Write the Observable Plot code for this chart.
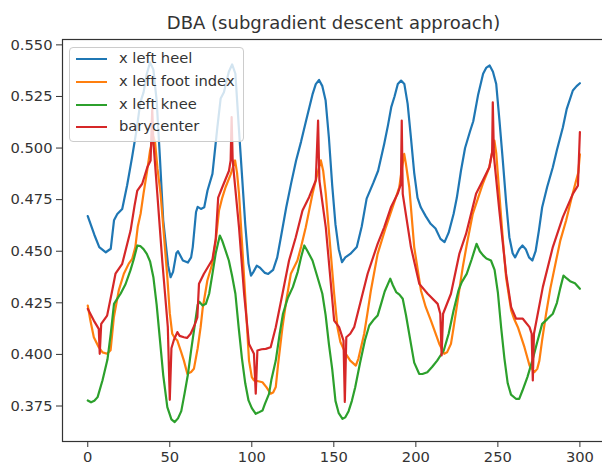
<!DOCTYPE html>
<html>
<head>
<meta charset="utf-8">
<script src="https://cdn.jsdelivr.net/npm/d3@7"></script>
<script src="https://cdn.jsdelivr.net/npm/@observablehq/plot@0.6"></script>
<style>
  body { margin: 0; background: #fff; }
  #wrap { position: relative; width: 602px; height: 466px; overflow: hidden; font-family: "DejaVu Sans", sans-serif; }
  #legend { position: absolute; left: 69px; top: 47px; width: 175px; height: 95px; box-sizing: border-box;
            border: 1px solid #cccccc; border-radius: 4px; background: rgba(255,255,255,0.8); }
  .sw { position: absolute; left: 6px; width: 31px; height: 2px; }
  .lb { position: absolute; left: 49px; font-size: 14.7px; color: #333; line-height: 18px; white-space: nowrap; }
</style>
</head>
<body>
<div id="wrap"></div>
<script>
const title = "DBA (subgradient descent approach)";
const seriesNames = ["x left heel", "x left foot index", "x left knee", "barycenter"];
const seriesColors = ["#1f77b4", "#ff7f0e", "#2ca02c", "#d62728"];
const xTicks = [0, 50, 100, 150, 200, 250, 300];
const yTicks = [0.375, 0.400, 0.425, 0.450, 0.475, 0.500, 0.525, 0.550];

const heelT = [0,4,7,11,14,16,18,21,24,27,30,32,34,36,38,40,42,44,46,49,50.5,52,54,55,58,61,63,64,66,67,69,71,73,76,79,81,83,86,88,90,92,94,96,98,99.5,101,103,105,108,110,113,115.5,118,121,124,127,130,133,137,139,141,143,145,147,149,151,153,155,157,160,164,167,170,174,177,180.7,183,185,187,189,191,193,195,197,199,201,203,206,209,212,215,217.5,220,223,225,227.5,230,233,235,238,241,243,245,247,249,251,253,255,257,259,260.5,263,265,267,269,271,273,275,277,280,283.5,286,289.6,292,295.7,298,300];
const heelV = [0.467,0.458,0.452,0.4495,0.4512,0.465,0.468,0.4705,0.482,0.4955,0.51,0.522,0.527,0.536,0.5415,0.538,0.523,0.495,0.465,0.443,0.4374,0.440,0.449,0.450,0.4455,0.4445,0.447,0.452,0.469,0.4715,0.4705,0.4713,0.4794,0.4875,0.510,0.524,0.527,0.537,0.5405,0.536,0.511,0.487,0.463,0.444,0.4382,0.440,0.443,0.442,0.4395,0.439,0.441,0.447,0.458,0.4713,0.483,0.494,0.503,0.513,0.526,0.531,0.533,0.530,0.523,0.505,0.482,0.463,0.451,0.4447,0.447,0.4487,0.452,0.462,0.4755,0.483,0.489,0.502,0.511,0.5198,0.525,0.531,0.5327,0.531,0.5214,0.505,0.488,0.476,0.4713,0.467,0.4633,0.461,0.456,0.4544,0.459,0.468,0.476,0.489,0.5,0.508,0.513,0.526,0.536,0.539,0.540,0.537,0.531,0.513,0.494,0.474,0.4568,0.449,0.447,0.451,0.4528,0.451,0.447,0.4455,0.450,0.46,0.4713,0.481,0.4907,0.499,0.510,0.519,0.5279,0.530,0.5314];

const footT = [0,1.6,3.7,6.7,9,11.8,13.9,15.9,18.9,22,25,27.1,29,30.5,32.2,34,36,38,40,41,42.5,44.4,46,48.5,50,51.5,53,54.6,57,58.6,60.7,63,64.7,67,68.8,70,72.9,75.9,78,80,82,84,87,89.8,91,92.2,95.3,98.3,100,101.3,104,106.5,109,111.5,113,114.6,116,118.7,121,123.8,127.8,130,132.9,137,140,142.1,143.5,145.1,147.5,150.2,152.2,154,157.3,160,163.4,165,168.5,170.5,172.6,176.7,181.7,185.8,189.9,191.5,192.9,194,196,199,203.1,206,209.2,214.3,217.3,219,221.4,223,225.5,228.6,231,234.7,238,240.8,244.8,246.5,247.9,249,250.9,253,255,258.1,260,262.2,266.2,269.3,272.3,274,275.3,277,279.4,282,285.5,288,291.6,295,297.7,299,300];
const footV = [0.4237,0.4164,0.4083,0.4035,0.401,0.4003,0.402,0.418,0.431,0.4391,0.444,0.4463,0.452,0.462,0.4681,0.478,0.488,0.4988,0.5055,0.503,0.49,0.4778,0.462,0.4374,0.42,0.410,0.408,0.4067,0.401,0.397,0.3906,0.3915,0.393,0.403,0.4132,0.422,0.4358,0.4439,0.455,0.4697,0.476,0.481,0.487,0.494,0.488,0.4778,0.4374,0.397,0.389,0.3874,0.387,0.3865,0.384,0.381,0.3815,0.3842,0.395,0.4132,0.426,0.4391,0.4455,0.452,0.4616,0.4778,0.4875,0.494,0.489,0.4778,0.455,0.4294,0.4132,0.406,0.4003,0.397,0.3946,0.398,0.410,0.42,0.431,0.4487,0.4616,0.4713,0.481,0.49,0.4972,0.492,0.481,0.452,0.431,0.423,0.4164,0.4051,0.4003,0.401,0.4051,0.413,0.4261,0.4423,0.453,0.4681,0.476,0.4826,0.4907,0.498,0.5036,0.4975,0.4778,0.456,0.4374,0.4213,0.417,0.4132,0.4035,0.3946,0.3914,0.393,0.397,0.407,0.4197,0.432,0.4455,0.455,0.4649,0.476,0.4843,0.488,0.497];

const kneeT = [0,2,4,6,9,12,14,16,18,20,23,26,28,30.2,32,34,36,38,40,42,44,46,48.5,51,53,55,57,59,61,63,65,67,68,70,72,74,76,78,80.5,82,84,86,88,90,92,94,96,98,100,102.4,104,106.5,108,110.5,112,114.6,117,119,122,125,128,130,132,134,137,140,143,145,147,149,151,153,155.3,157,159,161,163,166,169,171.6,174,176.7,179,181,184.4,186,188,190,192,194,197,199,202,204,207,210,213,217,220,223,226,228,231,234,237,239,241,243,245.8,248,250,252,254,256,258,261,263,265,268,271,274,277,280,283.5,286,288,290,292,294,297,300];
const kneeV = [0.3777,0.3768,0.3775,0.3793,0.3875,0.3975,0.410,0.4245,0.427,0.4294,0.434,0.4407,0.446,0.4528,0.4525,0.451,0.4487,0.445,0.4374,0.424,0.407,0.39,0.3745,0.3685,0.3672,0.369,0.3725,0.381,0.390,0.402,0.413,0.424,0.4255,0.4237,0.4245,0.4294,0.439,0.449,0.4576,0.455,0.4503,0.4455,0.438,0.4294,0.413,0.398,0.386,0.3777,0.374,0.3712,0.3718,0.3728,0.376,0.3809,0.388,0.397,0.410,0.4197,0.4275,0.4326,0.440,0.447,0.4528,0.450,0.4455,0.4375,0.4294,0.419,0.405,0.393,0.3775,0.3715,0.3688,0.3695,0.3725,0.3775,0.384,0.396,0.407,0.414,0.4165,0.4188,0.425,0.4305,0.4367,0.4335,0.4302,0.429,0.427,0.419,0.4051,0.396,0.3906,0.3905,0.3914,0.394,0.397,0.4019,0.410,0.4213,0.431,0.435,0.439,0.446,0.4536,0.450,0.448,0.4465,0.4455,0.441,0.430,0.413,0.398,0.386,0.3805,0.3785,0.3785,0.3825,0.389,0.397,0.406,0.4148,0.417,0.4197,0.425,0.432,0.4382,0.4368,0.4355,0.4345,0.4318];

const baryT = [0,3.7,6.7,7.3,8.2,11.8,14.9,16.9,21,26.1,28.5,30.2,33.2,36.3,38.3,39.3,40,42.4,45.4,48.8,50,51,52.5,54.6,56,58.6,60.5,62.7,65,66.8,67.8,70.8,73,76,78,79.5,82,86.1,87.1,87.7,88.3,89.1,92.2,95.3,98.3,101.3,102.4,103.4,106,108.5,111.5,114.6,118.7,122.7,126.8,130.9,134.9,139,140.4,141.2,145.1,150.2,153.2,155.9,156.7,157.6,160,162.4,166.5,170.6,176.7,180.7,184.8,188.9,190.9,191.4,192,197,202.1,207.2,213.3,214.9,215.7,216.6,221.4,226.5,230.6,236.7,240.8,244.8,246.5,246.9,247.6,250.9,255,258.1,261.1,265.2,269.3,270.6,271.3,272,277.4,283.5,289.6,295.7,298.8,300];
const baryV = [0.4221,0.4164,0.4124,0.4003,0.4148,0.4188,0.431,0.4391,0.4439,0.46,0.472,0.4794,0.4827,0.4907,0.494,0.519,0.503,0.4778,0.4455,0.4132,0.378,0.403,0.407,0.4108,0.409,0.4083,0.408,0.410,0.414,0.418,0.4342,0.4391,0.442,0.446,0.456,0.476,0.481,0.489,0.494,0.515,0.495,0.4875,0.4616,0.4294,0.4051,0.4003,0.381,0.4019,0.4025,0.4027,0.4035,0.4132,0.4294,0.4455,0.4568,0.4697,0.4762,0.4843,0.5133,0.4843,0.4616,0.4164,0.4132,0.4067,0.377,0.4083,0.410,0.4132,0.4261,0.4391,0.4536,0.4616,0.4713,0.4778,0.4826,0.5133,0.4778,0.452,0.4342,0.4294,0.4245,0.4197,0.3995,0.4197,0.4294,0.4487,0.4584,0.4778,0.4843,0.4907,0.498,0.5222,0.496,0.4697,0.4391,0.4229,0.4173,0.4173,0.4132,0.410,0.3874,0.410,0.4326,0.452,0.4665,0.4778,0.4818,0.5077];

const seriesT = [heelT, footT, kneeT, baryT];
const seriesV = [heelV, footV, kneeV, baryV];

const marks = [];
seriesNames.forEach((name, i) => {
  const rows = seriesT[i].map((t, j) => ({t, v: seriesV[i][j], name}));
  marks.push(Plot.line(rows, {x: "t", y: "v", stroke: seriesColors[i], strokeWidth: 2.2}));
});

const chart = Plot.plot({
  width: 602,
  height: 466,
  marginLeft: 62,
  marginRight: -2,
  marginTop: 39,
  marginBottom: 25,
  style: {fontFamily: "'DejaVu Sans', sans-serif", fontSize: "14.7px", color: "#333", background: "#fff", overflow: "hidden"},
  x: {domain: [-15.4, 315], ticks: xTicks, tickFormat: d3.format("d"), label: null},
  y: {domain: [0.3578, 0.5526], ticks: yTicks, tickFormat: d3.format(".3f"), label: null},
  marks: [
    Plot.axisX({ticks: xTicks, tickSize: 6, tickPadding: 4, label: null, tickFormat: d3.format("d")}),
    Plot.axisY({ticks: yTicks, tickSize: 6, tickPadding: 4, label: null, tickFormat: d3.format(".3f")}),
    ...marks,
    Plot.frame({stroke: "#333", strokeWidth: 1.2}),
    Plot.text([title], {frameAnchor: "top", dy: -16.5, lineAnchor: "middle", fontSize: 18, fill: "#333"})
  ]
});

const wrap = document.getElementById("wrap");
wrap.appendChild(chart);

const legend = document.createElement("div");
legend.id = "legend";
const rowCenters = [11, 34, 57, 79];
seriesNames.forEach((name, i) => {
  const sw = document.createElement("div");
  sw.className = "sw";
  sw.style.top = (rowCenters[i] - 1) + "px";
  sw.style.background = seriesColors[i];
  legend.appendChild(sw);
  const lb = document.createElement("div");
  lb.className = "lb";
  lb.style.top = (rowCenters[i] - 10) + "px";
  lb.textContent = name;
  legend.appendChild(lb);
});
wrap.appendChild(legend);
</script>
</body>
</html>
